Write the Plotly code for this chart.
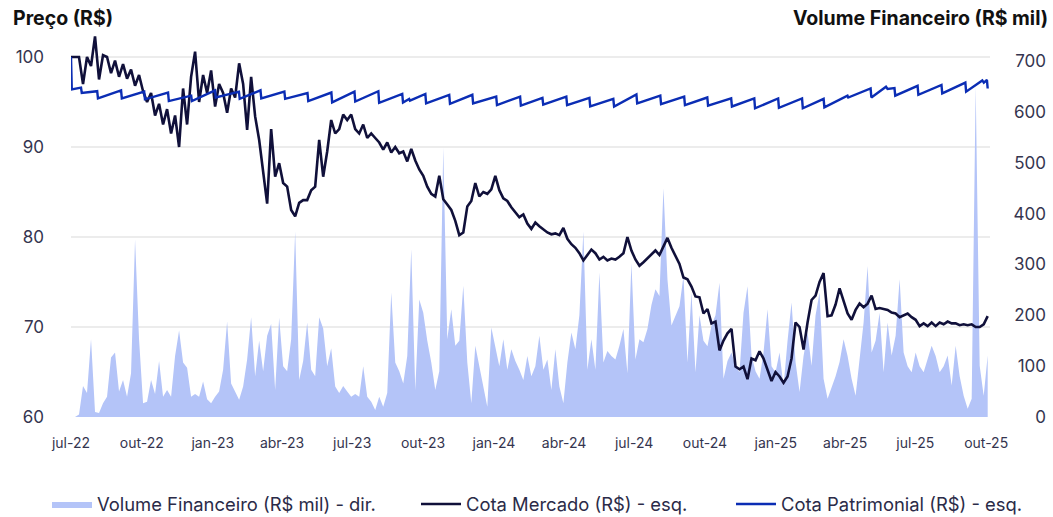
import plotly.graph_objects as go
import pandas as pd

# ---------------- DATA ----------------
start_date = "2022-07-01"
end_date = "2025-10-03"

cota_mercado = [
    100.0, 100.0, 100.0, 97.0, 100.0, 99.0, 102.3, 97.5, 100.2, 100.0,
    98.2, 99.6, 97.8, 99.2, 97.6, 98.6, 96.8, 98.0, 96.2, 95.0,
    96.0, 93.5, 94.8, 92.5, 94.2, 91.5, 93.5, 90.0, 96.5, 92.5,
    97.8, 100.6, 95.0, 98.0, 96.0, 98.5, 94.5, 97.0, 96.0, 93.8,
    96.5, 95.5, 99.3, 97.0, 91.9, 97.8, 93.4, 90.8, 87.1, 83.7,
    92.0, 86.7, 88.2, 86.0, 85.6, 83.0, 82.3, 83.8, 84.1, 84.1,
    85.2, 85.6, 90.8, 86.7, 89.5, 93.0, 91.5, 92.0, 93.6, 93.0,
    93.6, 92.0, 91.5, 92.5, 91.0, 91.5, 91.0, 90.5, 89.7, 90.5,
    89.4, 90.0, 89.3, 89.5, 88.4, 89.8, 88.5, 87.5, 86.8, 85.6,
    84.8, 84.5, 86.8, 84.2, 83.6, 83.0, 81.8, 80.2, 80.5, 83.4,
    84.0, 86.0, 84.5, 85.0, 84.8, 85.3, 86.8, 85.2, 84.3, 84.0,
    83.3, 82.8, 82.2, 82.5, 81.5, 80.9, 81.6, 81.2, 80.8, 80.5,
    80.3, 80.4, 80.2, 81.0, 79.8, 79.2, 78.8, 78.2, 77.4, 78.0,
    78.6, 78.2, 77.5, 77.8, 77.4, 77.6, 77.5, 77.8, 78.2, 80.0,
    78.5, 77.5, 76.8, 77.2, 77.6, 78.0, 78.5, 78.0, 79.0, 79.9,
    78.8, 77.8, 77.0, 75.5, 75.3, 74.5, 73.4, 73.3, 71.5, 72.0,
    70.4, 70.6, 67.4, 68.5, 69.3, 69.8, 65.6, 65.3, 65.6, 64.2,
    66.5, 66.3, 67.3, 66.5, 65.3, 64.0, 65.0, 64.5, 63.8, 64.5,
    66.5, 70.5, 70.0, 67.5, 70.5, 73.0, 73.5, 75.0, 76.0, 71.2,
    71.3, 72.5, 74.3, 73.0, 71.5, 70.8, 71.9, 72.6, 72.2, 72.6,
    73.5, 72.0, 72.1, 72.0, 71.9, 71.6, 71.5, 71.1, 71.3, 71.5,
    71.1, 70.8, 70.1, 70.4, 70.1, 70.5, 70.1, 70.5, 70.3, 70.6,
    70.4, 70.4, 70.2, 70.3, 70.2, 70.3, 70.0, 70.0, 70.3, 71.2,
]

volume_fin = [
    0, 0, 5, 61, 47, 153, 10, 8, 27, 40,
    117, 127, 50, 73, 40, 86, 349, 153, 27, 30,
    73, 45, 110, 40, 53, 40, 120, 170, 107, 97,
    40, 45, 40, 70, 35, 27, 40, 50, 93, 188,
    66, 50, 34, 60, 113, 196, 80, 150, 90, 160,
    183, 53, 195, 100, 90, 153, 365, 73, 110, 186,
    93, 80, 196, 174, 100, 135, 60, 47, 61, 50,
    40, 45, 40, 100, 40, 30, 14, 40, 20, 47,
    245, 107, 90, 66, 120, 330, 53, 231, 205, 150,
    107, 53, 90, 530, 153, 212, 140, 150, 258, 107,
    27, 140, 100, 66, 20, 176, 140, 100, 153, 93,
    133, 110, 93, 73, 120, 80, 100, 160, 93, 113,
    53, 133, 60, 27, 107, 166, 133, 200, 365, 93,
    153, 93, 284, 107, 130, 120, 113, 140, 173, 86,
    303, 113, 153, 147, 173, 220, 251, 238, 450, 271,
    180, 200, 218, 277, 107, 245, 88, 200, 150, 139,
    180, 200, 264, 75, 110, 127, 100, 88, 205, 257,
    121, 90, 75, 127, 212, 100, 88, 127, 60, 150,
    225, 108, 49, 120, 166, 101, 200, 245, 75, 36,
    56, 80, 108, 153, 120, 75, 42, 120, 186, 297,
    127, 150, 205, 88, 186, 121, 160, 271, 127, 100,
    88, 127, 100, 88, 114, 140, 120, 88, 100, 121,
    62, 140, 80, 42, 16, 36, 650, 101, 42, 121,
]

cota_patrimonial_dates = [
    "2022-07-01", "2022-07-02", "2022-07-14", "2022-07-15",
    "2022-08-04", "2022-08-05", "2022-09-04", "2022-09-05",
    "2022-10-04", "2022-10-05", "2022-11-04", "2022-11-05",
    "2022-12-04", "2022-12-05", "2023-01-04", "2023-01-05",
    "2023-02-04", "2023-02-05", "2023-03-04", "2023-03-05",
    "2023-04-04", "2023-04-05", "2023-05-04", "2023-05-05",
    "2023-06-04", "2023-06-05", "2023-07-04", "2023-07-05",
    "2023-08-04", "2023-08-05", "2023-09-04", "2023-09-05",
    "2023-09-13", "2023-09-14",
    "2023-10-04", "2023-10-05", "2023-11-04", "2023-11-05",
    "2023-12-04", "2023-12-05", "2024-01-04", "2024-01-05",
    "2024-02-04", "2024-02-05", "2024-03-04", "2024-03-05",
    "2024-04-04", "2024-04-05", "2024-05-04", "2024-05-05",
    "2024-06-04", "2024-06-05", "2024-07-04", "2024-07-05",
    "2024-08-04", "2024-08-05", "2024-09-04", "2024-09-05",
    "2024-10-04", "2024-10-05", "2024-11-04", "2024-11-05",
    "2024-12-04", "2024-12-05", "2025-01-04", "2025-01-05",
    "2025-02-04", "2025-02-05", "2025-03-04", "2025-03-05",
    "2025-04-04", "2025-04-05", "2025-05-04", "2025-05-05",
    "2025-05-24", "2025-05-26",
    "2025-06-04", "2025-06-05", "2025-07-04", "2025-07-05",
    "2025-08-04", "2025-08-05", "2025-09-04", "2025-09-05",
    "2025-09-26", "2025-09-28",
    "2025-10-02", "2025-10-03",
]
cota_patrimonial = [
    100.0, 96.4, 96.6, 96.0,
    96.2, 95.4, 96.3, 95.4,
    96.15, 95.3, 96.05, 95.1,
    95.7, 95.1, 96.3, 95.5,
    96.15, 95.35, 96.3, 95.4,
    96.15, 95.35, 96.0, 95.1,
    96.05, 94.95, 96.15, 95.05,
    96.2, 94.9, 95.9, 94.95,
    95.35, 95.15,
    95.9, 94.85, 95.8, 94.8,
    95.8, 94.85, 95.6, 94.65,
    95.6, 94.6, 95.45, 94.7,
    95.6, 94.65, 95.45, 94.5,
    95.35, 94.5, 95.85, 94.85,
    95.7, 94.75, 95.6, 94.65,
    95.5, 94.6, 95.4, 94.5,
    95.4, 94.3, 95.4, 94.35,
    95.4, 94.3, 95.35, 94.4,
    95.7, 95.5, 96.5, 95.5,
    96.7, 96.45,
    96.55, 95.7, 96.8, 95.8,
    96.9, 95.95, 97.15, 96.15,
    97.4, 97.15,
    97.45, 96.5,
]

tick_dates = [
    "2022-07-01", "2022-10-01", "2023-01-01", "2023-04-01", "2023-07-01",
    "2023-10-01", "2024-01-01", "2024-04-01", "2024-07-01", "2024-10-01",
    "2025-01-01", "2025-04-01", "2025-07-01", "2025-10-01",
]
tick_labels = [
    "jul-22", "out-22", "jan-23", "abr-23", "jul-23", "out-23", "jan-24",
    "abr-24", "jul-24", "out-24", "jan-25", "abr-25", "jul-25", "out-25",
]
price_ticks = [60, 70, 80, 90, 100]
volume_ticks = [0, 100, 200, 300, 400, 500, 600, 700]

# ---------------- FIGURE ----------------
FONT = "Inter"
TICK_COLOR = "#35354f"
LEGEND_FONT = dict(size=18.4, color="#2b2b48", family=FONT)

price_dates = pd.date_range(start_date, end_date, periods=len(cota_mercado))
vol_dates = pd.date_range(start_date, end_date, periods=len(volume_fin))

fig = go.Figure()

fig.add_trace(go.Scatter(
    x=vol_dates, y=volume_fin, name="Volume Financeiro (R$ mil) - dir.",
    mode="lines", fill="tozeroy", line=dict(width=0, color="#b4c4f8"),
    fillcolor="#b4c4f8", yaxis="y", legend="legend",
))
fig.add_trace(go.Scatter(
    x=price_dates, y=cota_mercado, name="Cota Mercado (R$) - esq.",
    mode="lines", line=dict(width=2.6, color="#10103a"), yaxis="y2",
    legend="legend2",
))
fig.add_trace(go.Scatter(
    x=pd.to_datetime(cota_patrimonial_dates), y=cota_patrimonial,
    name="Cota Patrimonial (R$) - esq.",
    mode="lines", line=dict(width=2.4, color="#0b2db4"), yaxis="y2",
    legend="legend3",
))

L, R, T, B = 71, 5, 30, 100
plot_w = 1053 - L - R
plot_h = 517 - T - B
x_dom_end = (990 - L) / plot_w


def legend_at(x_px):
    return dict(
        orientation="h", xref="container", yref="container",
        x=x_px / 1053, y=13 / 517, xanchor="left", yanchor="middle",
        font=LEGEND_FONT, itemwidth=40, bgcolor="rgba(0,0,0,0)",
    )


fig.update_layout(
    width=1053, height=517,
    margin=dict(l=L, r=R, t=T, b=B, autoexpand=False),
    paper_bgcolor="white", plot_bgcolor="white",
    font=dict(family=FONT, color=TICK_COLOR),
    showlegend=True,
    legend=legend_at(47),
    legend2=legend_at(416),
    legend3=legend_at(731),
    xaxis=dict(
        domain=[0, x_dom_end],
        range=["2022-07-01", "2025-10-06"],
        tickvals=pd.to_datetime(tick_dates), ticktext=tick_labels,
        showgrid=False, zeroline=False, showline=False,
        tickfont=dict(size=14, color=TICK_COLOR), ticks="",
        ticklabelstandoff=16,
    ),
    yaxis=dict(
        range=[0, 761], tickvals=volume_ticks,
        anchor="free", position=1.0, side="left",
        showgrid=False, zeroline=False, showline=False,
        tickfont=dict(size=17, color=TICK_COLOR), ticks="",
        ticklabelstandoff=2,
    ),
    yaxis2=dict(
        range=[60, 103], tickvals=price_ticks, overlaying="y", side="left",
        anchor="x",
        showgrid=True, gridcolor="#ececec", gridwidth=2,
        zeroline=False, showline=False,
        tickfont=dict(size=17, color=TICK_COLOR), ticks="",
        ticklabelstandoff=26,
    ),
    annotations=[
        dict(text="<b>Preço (R$)</b>", xref="paper", yref="paper",
             x=(11 - L) / plot_w, y=1 + 12 / plot_h, xanchor="left", yanchor="middle",
             showarrow=False, font=dict(size=19.5, color="#111111", family=FONT)),
        dict(text="<b>Volume Financeiro (R$ mil)</b>", xref="paper", yref="paper",
             x=(1050 - L) / plot_w, y=1 + 12 / plot_h, xanchor="right", yanchor="middle",
             showarrow=False, font=dict(size=19.5, color="#111111", family=FONT)),
    ],
)

fig.write_html(
    "out.html",
    config={"displayModeBar": False},
    post_script="document.body.style.margin='0';",
)
